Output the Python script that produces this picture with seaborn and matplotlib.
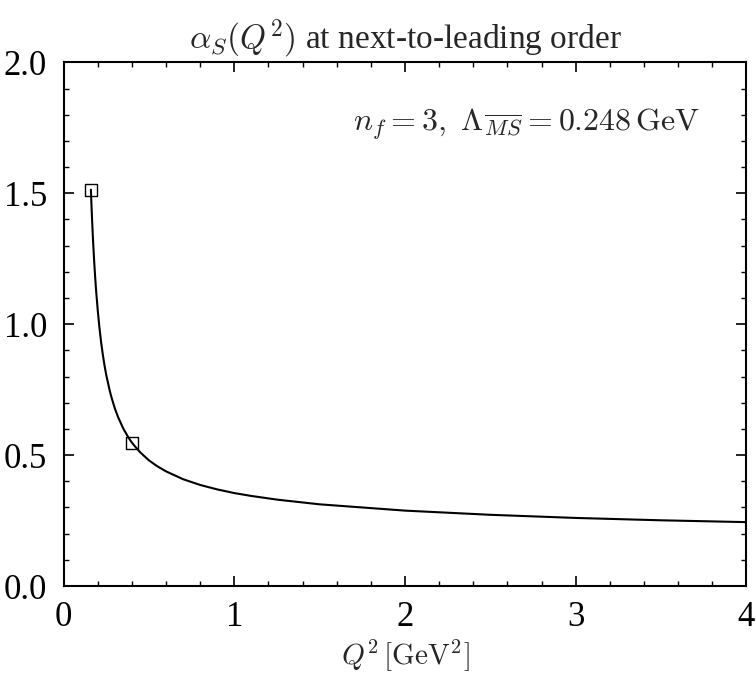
"""
alpha_s(Q^2) at next-to-leading order, nf = 3
"""

import numpy as np
import pandas as pd
import matplotlib
matplotlib.use('Agg')
import matplotlib.pyplot as plt
from matplotlib.ticker import MultipleLocator, FormatStrFormatter
import seaborn as sns

# Values
q2 = [0.16, 0.1625, 0.165, 0.1675, 0.17, 0.175, 0.18, 0.185, 0.19, 0.20, 0.21,
      0.22, 0.23, 0.24, 0.25, 0.27, 0.28, 0.30, 0.32, 0.35, 0.38, 0.40, 0.42,
      0.45, 0.50, 0.55, 0.60, 0.70, 0.80, 0.90, 1.00, 1.10, 1.25, 1.50, 2.00,
      2.50, 3.00, 3.50, 4.00]
alpha_s = [1.514, 1.470, 1.430, 1.391, 1.355, 1.290, 1.232, 1.180, 1.133, 1.054, 0.987,
           0.931, 0.883, 0.842, 0.806, 0.747, 0.722, 0.679, 0.644, 0.601, 0.567, 0.548, 0.532,
           0.510, 0.480, 0.457, 0.438, 0.408, 0.386, 0.369, 0.355, 0.344, 0.330, 0.312, 0.288,
           0.272, 0.260, 0.251, 0.244]

# marked points
mark_q2 = [0.16, 0.40]
mark_alpha = [1.514, 0.548]

sns.set_style('ticks')
plt.rcParams['font.family'] = ['Liberation Serif', 'DejaVu Serif']
plt.rcParams['mathtext.fontset'] = 'cm'

curve = pd.DataFrame({'Q2': q2, 'alpha': alpha_s})
marks = pd.DataFrame({'Q2': mark_q2, 'alpha': mark_alpha})

fig = plt.figure(figsize=(7.56, 6.77), dpi=100)
ax = fig.add_axes([0.0841, 0.1344, 0.9032, 0.7734])

sns.lineplot(data=curve, x='Q2', y='alpha', ax=ax, color='black', linewidth=1.5)
sns.scatterplot(data=marks, x='Q2', y='alpha', ax=ax, marker='s', s=75,
                facecolor='none', edgecolor='black', linewidth=1.0, zorder=5)

ax.set_xlim(0, 4)
ax.set_ylim(0, 2.0)
ax.xaxis.set_major_locator(MultipleLocator(1))
ax.xaxis.set_minor_locator(MultipleLocator(0.2))
ax.yaxis.set_major_locator(MultipleLocator(0.5))
ax.yaxis.set_minor_locator(MultipleLocator(0.1))
ax.yaxis.set_major_formatter(FormatStrFormatter('%.1f'))

ax.tick_params(which='both', direction='in', top=True, right=True, colors='black')
ax.tick_params(which='major', length=7, width=1.2, labelsize=25)
ax.tick_params(axis='y', which='major', pad=12)
ax.tick_params(axis='x', which='major', pad=11)
ax.tick_params(which='minor', length=3.5, width=1.0)
for side in ax.spines.values():
    side.set_linewidth(1.5)
    side.set_color('black')

ax.set_xlabel(r'$Q^2\,[\mathrm{GeV}^2]$', fontsize=21, labelpad=2)
ax.set_ylabel('')
ax.set_title(r'$\alpha_S(Q^2)$ at next-to-leading order', fontsize=24, pad=10)

ax.text(0.932, 0.882, r'$n_f = 3,\ \Lambda_{\overline{MS}} = 0.248\,\mathrm{GeV}$',
        transform=ax.transAxes, ha='right', va='center', fontsize=23)

plt.savefig('out.png', dpi=100)
